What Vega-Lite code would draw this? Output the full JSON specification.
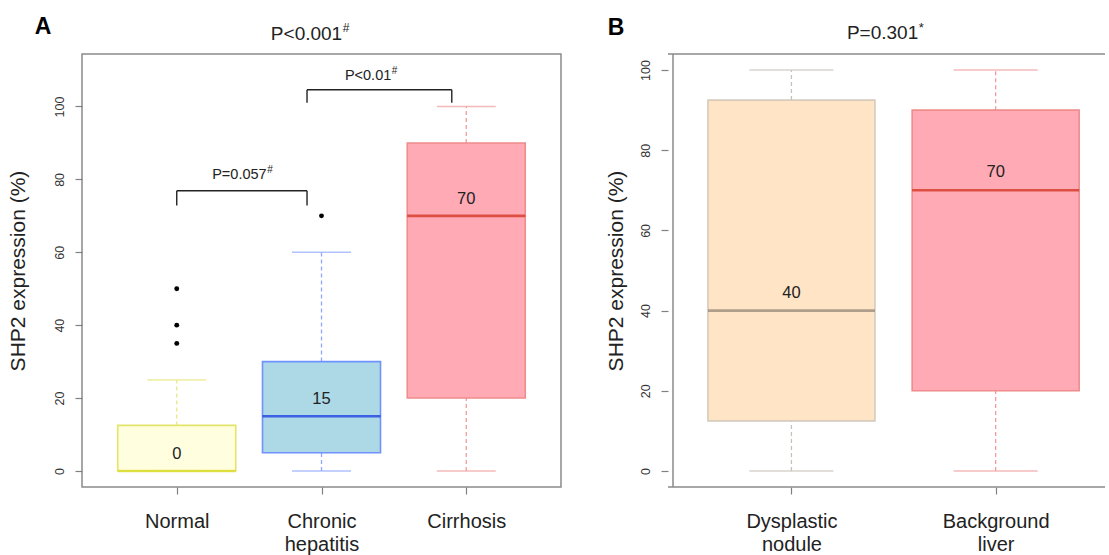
{
  "$schema": "https://vega.github.io/schema/vega-lite/v6.json",
  "padding": {"left": 6, "top": 15, "right": 0, "bottom": 0},
  "spacing": 42,
  "config": {
    "font": "Liberation Sans",
    "view": {"stroke": "#8a8a8a", "strokeWidth": 1.5},
    "axis": {"grid": false, "domain": false, "tickColor": "#808080", "tickWidth": 1.2, "labelColor": "#333333", "titleColor": "#222222", "titleFontWeight": "normal"}
  },
  "datasets": {
    "boxA": [
      {"group": "Normal", "pos": 1, "lo": 0, "q1": 0, "med": 0, "q3": 12.5, "hi": 25},
      {"group": "Chronic hepatitis", "pos": 2, "lo": 0, "q1": 5, "med": 15, "q3": 30, "hi": 60},
      {"group": "Cirrhosis", "pos": 3, "lo": 0, "q1": 20, "med": 70, "q3": 90, "hi": 100}
    ],
    "outA": [
      {"group": "Normal", "pos": 1, "value": 35},
      {"group": "Normal", "pos": 1, "value": 40},
      {"group": "Normal", "pos": 1, "value": 50},
      {"group": "Chronic hepatitis", "pos": 2, "value": 70}
    ],
    "bracketA": [
      {"from": 1, "to": 1.9, "top": 76.9, "bottom": 72.8, "label": "P=0.057", "sup": "#", "xend": 1.621, "ylab": 81.3},
      {"from": 1.9, "to": 2.9, "top": 104.6, "bottom": 101, "label": "P<0.01", "sup": "#", "xend": 2.482, "ylab": 108.4}
    ],
    "titleA": [{"label": "P<0.001", "sup": "#", "xend": 2.143, "ylab": 119.8}],
    "boxB": [
      {"group": "Dysplastic nodule", "pos": 1, "lo": 0, "q1": 12.5, "med": 40, "q3": 92.5, "hi": 100},
      {"group": "Background liver", "pos": 2, "lo": 0, "q1": 20, "med": 70, "q3": 90, "hi": 100}
    ],
    "titleB": [{"label": "P=0.301", "sup": "*", "xend": 1.621, "ylab": 109.2}]
  },
  "hconcat": [
    {
      "width": 479,
      "height": 433,
      "layer": [
        {
          "data": {"name": "boxA"},
          "mark": {"type": "rule", "strokeDash": [4, 3], "strokeWidth": 1.3},
          "encoding": {
            "x": {"field": "pos", "type": "quantitative", "scale": {"domain": [0.38, 3.62], "nice": false, "zero": false},
                  "axis": {"values": [1, 2, 3], "tickSize": 7, "labelFontSize": 20, "labelPadding": 17, "labelLineHeight": 23, "labelColor": "#222222", "title": null,
                           "labelExpr": "datum.value == 1 ? 'Normal' : datum.value == 2 ? ['Chronic', 'hepatitis'] : 'Cirrhosis'"}},
            "y": {"field": "q3", "type": "quantitative", "scale": {"domain": [-4.4, 114.4], "nice": false, "zero": false},
                  "axis": {"values": [0, 20, 40, 60, 80, 100], "tickSize": 7, "labelFontSize": 12.5, "labelAngle": 270, "labelAlign": "center", "labelBaseline": "bottom", "labelPadding": 9,
                           "title": "SHP2 expression (%)", "titleFontSize": 21, "titlePadding": 25}},
            "y2": {"field": "hi"},
            "color": {"field": "group", "type": "nominal", "legend": null,
                      "scale": {"domain": ["Normal", "Chronic hepatitis", "Cirrhosis"], "range": ["#E8E88C", "#90A8FF", "#F09C9C"]}}
          }
        },
        {
          "data": {"name": "boxA"},
          "mark": {"type": "rule", "strokeDash": [4, 3], "strokeWidth": 1.3},
          "encoding": {
            "x": {"field": "pos", "type": "quantitative"},
            "y": {"field": "lo", "type": "quantitative"},
            "y2": {"field": "q1"},
            "color": {"field": "group", "type": "nominal", "legend": null,
                      "scale": {"domain": ["Normal", "Chronic hepatitis", "Cirrhosis"], "range": ["#E8E88C", "#90A8FF", "#F09C9C"]}}
          }
        },
        {
          "data": {"name": "boxA"},
          "mark": {"type": "tick", "orient": "horizontal", "size": 59, "thickness": 1.6},
          "encoding": {
            "x": {"field": "pos", "type": "quantitative"},
            "y": {"field": "hi", "type": "quantitative"},
            "color": {"field": "group", "type": "nominal", "legend": null,
                      "scale": {"domain": ["Normal", "Chronic hepatitis", "Cirrhosis"], "range": ["#E8E88C", "#90A8FF", "#F09C9C"]}}
          }
        },
        {
          "data": {"name": "boxA"},
          "mark": {"type": "tick", "orient": "horizontal", "size": 59, "thickness": 1.6},
          "encoding": {
            "x": {"field": "pos", "type": "quantitative"},
            "y": {"field": "lo", "type": "quantitative"},
            "color": {"field": "group", "type": "nominal", "legend": null,
                      "scale": {"domain": ["Normal", "Chronic hepatitis", "Cirrhosis"], "range": ["#E8E88C", "#90A8FF", "#F09C9C"]}}
          }
        },
        {
          "data": {"name": "boxA"},
          "mark": {"type": "bar", "size": 118, "strokeWidth": 1.6, "opacity": 1},
          "encoding": {
            "x": {"field": "pos", "type": "quantitative"},
            "y": {"field": "q1", "type": "quantitative"},
            "y2": {"field": "q3"},
            "fill": {"field": "group", "type": "nominal", "legend": null,
                     "scale": {"domain": ["Normal", "Chronic hepatitis", "Cirrhosis"], "range": ["#FFFFE0", "#ADD8E6", "#FFAAB5"]}},
            "stroke": {"field": "group", "type": "nominal", "legend": null,
                       "scale": {"domain": ["Normal", "Chronic hepatitis", "Cirrhosis"], "range": ["#E4E46A", "#6F92FF", "#F08C8C"]}}
          }
        },
        {
          "data": {"name": "boxA"},
          "mark": {"type": "tick", "orient": "horizontal", "size": 118, "thickness": 2.6},
          "encoding": {
            "x": {"field": "pos", "type": "quantitative"},
            "y": {"field": "med", "type": "quantitative"},
            "color": {"field": "group", "type": "nominal", "legend": null,
                      "scale": {"domain": ["Normal", "Chronic hepatitis", "Cirrhosis"], "range": ["#D8D820", "#0A2EE0", "#D02812"]}}
          }
        },
        {
          "data": {"name": "outA"},
          "mark": {"type": "point", "filled": true, "size": 24, "color": "#000000", "opacity": 1},
          "encoding": {
            "x": {"field": "pos", "type": "quantitative"},
            "y": {"field": "value", "type": "quantitative"}
          }
        },
        {
          "data": {"name": "boxA"},
          "mark": {"type": "text", "fontSize": 16.5, "color": "#222222", "baseline": "middle", "dy": -17},
          "encoding": {
            "x": {"field": "pos", "type": "quantitative"},
            "y": {"field": "med", "type": "quantitative"},
            "text": {"field": "med", "type": "quantitative"}
          }
        },
        {
          "data": {"name": "bracketA"},
          "mark": {"type": "rule", "color": "#222222", "strokeWidth": 1.4},
          "encoding": {
            "x": {"field": "from", "type": "quantitative"},
            "x2": {"field": "to"},
            "y": {"field": "top", "type": "quantitative"}
          }
        },
        {
          "data": {"name": "bracketA"},
          "mark": {"type": "rule", "color": "#222222", "strokeWidth": 1.4},
          "encoding": {
            "x": {"field": "from", "type": "quantitative"},
            "y": {"field": "bottom", "type": "quantitative"},
            "y2": {"field": "top"}
          }
        },
        {
          "data": {"name": "bracketA"},
          "mark": {"type": "rule", "color": "#222222", "strokeWidth": 1.4},
          "encoding": {
            "x": {"field": "to", "type": "quantitative"},
            "y": {"field": "bottom", "type": "quantitative"},
            "y2": {"field": "top"}
          }
        },
        {
          "data": {"name": "bracketA"},
          "mark": {"type": "text", "fontSize": 14.5, "color": "#222222", "align": "right", "baseline": "middle"},
          "encoding": {
            "x": {"field": "xend", "type": "quantitative"},
            "y": {"field": "ylab", "type": "quantitative"},
            "text": {"field": "label"}
          }
        },
        {
          "data": {"name": "bracketA"},
          "mark": {"type": "text", "fontSize": 10, "color": "#222222", "align": "left", "baseline": "middle", "dx": 0.5, "dy": -5},
          "encoding": {
            "x": {"field": "xend", "type": "quantitative"},
            "y": {"field": "ylab", "type": "quantitative"},
            "text": {"field": "sup"}
          }
        },
        {
          "data": {"name": "titleA"},
          "mark": {"type": "text", "fontSize": 19, "color": "#222222", "align": "right", "baseline": "middle"},
          "encoding": {
            "x": {"field": "xend", "type": "quantitative"},
            "y": {"field": "ylab", "type": "quantitative"},
            "text": {"field": "label"}
          }
        },
        {
          "data": {"name": "titleA"},
          "mark": {"type": "text", "fontSize": 12, "color": "#222222", "align": "left", "baseline": "middle", "dx": 0.5, "dy": -6},
          "encoding": {
            "x": {"field": "xend", "type": "quantitative"},
            "y": {"field": "ylab", "type": "quantitative"},
            "text": {"field": "sup"}
          }
        },
        {
          "data": {"values": [{}]},
          "mark": {"type": "text", "text": "A", "fontSize": 23, "fontWeight": "bold", "color": "#000000", "align": "center", "baseline": "middle", "dx": -44, "dy": -27},
          "encoding": {
            "x": {"datum": 0.38, "type": "quantitative"},
            "y": {"datum": 114.4, "type": "quantitative"}
          }
        }
      ],
      "resolve": {"scale": {"color": "independent", "fill": "independent", "stroke": "independent"}}
    },
    {
      "width": 437,
      "height": 433,
      "view": {"stroke": null},
      "layer": [
        {
          "data": {"name": "boxB"},
          "mark": {"type": "rule", "strokeDash": [4, 3], "strokeWidth": 1.3},
          "encoding": {
            "x": {"field": "pos", "type": "quantitative", "scale": {"domain": [0.42, 2.511], "nice": false, "zero": false},
                  "axis": {"values": [1, 2], "tickSize": 7, "labelFontSize": 20, "labelPadding": 17, "labelLineHeight": 23, "labelColor": "#222222", "title": null,
                           "labelExpr": "datum.value == 1 ? ['Dysplastic', 'nodule'] : ['Background', 'liver']"}},
            "y": {"field": "q3", "type": "quantitative", "scale": {"domain": [-4, 104], "nice": false, "zero": false},
                  "axis": {"values": [0, 20, 40, 60, 80, 100], "tickSize": 7, "labelFontSize": 12.5, "labelAngle": 270, "labelAlign": "center", "labelBaseline": "bottom", "labelPadding": 9,
                           "title": "SHP2 expression (%)", "titleFontSize": 21, "titlePadding": 13}},
            "y2": {"field": "hi"},
            "color": {"field": "group", "type": "nominal", "legend": null,
                      "scale": {"domain": ["Dysplastic nodule", "Background liver"], "range": ["#C9C1B7", "#F09C9C"]}}
          }
        },
        {
          "data": {"name": "boxB"},
          "mark": {"type": "rule", "strokeDash": [4, 3], "strokeWidth": 1.3},
          "encoding": {
            "x": {"field": "pos", "type": "quantitative"},
            "y": {"field": "lo", "type": "quantitative"},
            "y2": {"field": "q1"},
            "color": {"field": "group", "type": "nominal", "legend": null,
                      "scale": {"domain": ["Dysplastic nodule", "Background liver"], "range": ["#C9C1B7", "#F09C9C"]}}
          }
        },
        {
          "data": {"name": "boxB"},
          "mark": {"type": "tick", "orient": "horizontal", "size": 84, "thickness": 1.6},
          "encoding": {
            "x": {"field": "pos", "type": "quantitative"},
            "y": {"field": "hi", "type": "quantitative"},
            "color": {"field": "group", "type": "nominal", "legend": null,
                      "scale": {"domain": ["Dysplastic nodule", "Background liver"], "range": ["#C9C1B7", "#F09C9C"]}}
          }
        },
        {
          "data": {"name": "boxB"},
          "mark": {"type": "tick", "orient": "horizontal", "size": 84, "thickness": 1.6},
          "encoding": {
            "x": {"field": "pos", "type": "quantitative"},
            "y": {"field": "lo", "type": "quantitative"},
            "color": {"field": "group", "type": "nominal", "legend": null,
                      "scale": {"domain": ["Dysplastic nodule", "Background liver"], "range": ["#C9C1B7", "#F09C9C"]}}
          }
        },
        {
          "data": {"name": "boxB"},
          "mark": {"type": "bar", "size": 167, "strokeWidth": 1.6, "opacity": 1},
          "encoding": {
            "x": {"field": "pos", "type": "quantitative"},
            "y": {"field": "q1", "type": "quantitative"},
            "y2": {"field": "q3"},
            "fill": {"field": "group", "type": "nominal", "legend": null,
                     "scale": {"domain": ["Dysplastic nodule", "Background liver"], "range": ["#FFE4C6", "#FFAAB5"]}},
            "stroke": {"field": "group", "type": "nominal", "legend": null,
                       "scale": {"domain": ["Dysplastic nodule", "Background liver"], "range": ["#D6CBBD", "#F08C8C"]}}
          }
        },
        {
          "data": {"name": "boxB"},
          "mark": {"type": "tick", "orient": "horizontal", "size": 167, "thickness": 2.6},
          "encoding": {
            "x": {"field": "pos", "type": "quantitative"},
            "y": {"field": "med", "type": "quantitative"},
            "color": {"field": "group", "type": "nominal", "legend": null,
                      "scale": {"domain": ["Dysplastic nodule", "Background liver"], "range": ["#8C8070", "#D02812"]}}
          }
        },
        {
          "data": {"name": "boxB"},
          "mark": {"type": "text", "fontSize": 16.5, "color": "#222222", "baseline": "middle", "dy": -18},
          "encoding": {
            "x": {"field": "pos", "type": "quantitative"},
            "y": {"field": "med", "type": "quantitative"},
            "text": {"field": "med", "type": "quantitative"}
          }
        },
        {
          "data": {"values": [{}]},
          "mark": {"type": "rule", "color": "#8a8a8a", "strokeWidth": 1.5},
          "encoding": {"y": {"datum": 104, "type": "quantitative"}}
        },
        {
          "data": {"values": [{}]},
          "mark": {"type": "rule", "color": "#8a8a8a", "strokeWidth": 1.5},
          "encoding": {"y": {"datum": -4, "type": "quantitative"}}
        },
        {
          "data": {"values": [{}]},
          "mark": {"type": "rule", "color": "#8a8a8a", "strokeWidth": 1.5},
          "encoding": {"x": {"datum": 0.42, "type": "quantitative"}}
        },
        {
          "data": {"name": "titleB"},
          "mark": {"type": "text", "fontSize": 19, "color": "#222222", "align": "right", "baseline": "middle"},
          "encoding": {
            "x": {"field": "xend", "type": "quantitative"},
            "y": {"field": "ylab", "type": "quantitative"},
            "text": {"field": "label"}
          }
        },
        {
          "data": {"name": "titleB"},
          "mark": {"type": "text", "fontSize": 13, "color": "#222222", "align": "left", "baseline": "middle", "dx": 0.5, "dy": -5},
          "encoding": {
            "x": {"field": "xend", "type": "quantitative"},
            "y": {"field": "ylab", "type": "quantitative"},
            "text": {"field": "sup"}
          }
        },
        {
          "data": {"values": [{}]},
          "mark": {"type": "text", "text": "B", "fontSize": 23, "fontWeight": "bold", "color": "#000000", "align": "center", "baseline": "middle", "dx": -57, "dy": -26},
          "encoding": {
            "x": {"datum": 0.42, "type": "quantitative"},
            "y": {"datum": 104, "type": "quantitative"}
          }
        }
      ],
      "resolve": {"scale": {"color": "independent", "fill": "independent", "stroke": "independent"}}
    }
  ]
}
